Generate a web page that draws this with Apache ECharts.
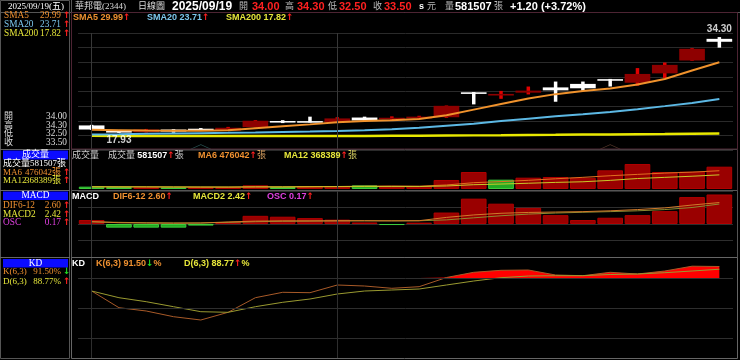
<!DOCTYPE html>
<html><head><meta charset="utf-8">
<script src="https://cdn.jsdelivr.net/npm/echarts@6/dist/echarts.min.js"></script>
<style>html,body{margin:0;padding:0;background:#000;}#c{width:740px;height:360px;}</style>
</head><body><div id="c"></div>
<script>
// ---------------- DATA ----------------
const dates = ['08/19','08/20','08/21','08/22','08/25','08/26','08/27','08/28','08/29','09/01','09/02','09/03','09/04','09/05','09/08','09/09','09/10','09/11','09/12','09/15','09/16','09/17','09/18','09/19'];
const opens  = [19.20,18.25,18.05,18.50,18.55,18.30,18.90,19.95,19.85,19.70,20.55,20.30,20.40,20.60,24.85,24.35,24.80,25.70,26.30,27.10,26.50,28.10,30.30,34.00];
const closes = [18.50,17.98,18.50,18.15,18.45,18.80,20.00,19.70,19.75,20.40,20.05,20.45,20.70,22.55,24.60,24.55,25.15,25.20,25.55,26.85,28.00,29.55,32.30,33.50];
const lows   = [18.45,17.93,18.00,17.95,18.40,18.25,18.85,19.60,19.70,19.60,19.95,20.10,20.30,20.50,22.80,23.75,24.50,23.25,25.15,25.85,26.00,27.30,30.25,32.50];
const highs  = [19.30,18.40,18.60,18.55,18.75,18.95,20.10,20.10,20.70,20.60,20.70,20.75,20.85,22.60,24.90,25.10,25.85,26.70,26.70,27.15,29.00,29.95,32.40,34.30];
const sma5   = [18.45,18.38,18.32,18.30,18.30,18.38,18.72,19.05,19.38,19.75,19.95,20.10,20.30,20.95,21.90,22.85,23.80,24.55,25.07,25.50,26.20,27.15,28.60,29.99];
const sma20  = [17.65,17.70,17.78,17.83,17.88,17.93,18.00,18.08,18.16,18.25,18.38,18.53,18.80,19.15,19.50,19.95,20.35,20.75,21.10,21.50,21.98,22.50,23.05,23.71];
const sma200 = [17.42,17.41,17.40,17.39,17.38,17.38,17.38,17.38,17.38,17.39,17.40,17.42,17.44,17.47,17.50,17.53,17.57,17.60,17.64,17.67,17.71,17.74,17.78,17.82];
const volumes = [61000,52000,43000,43000,43000,43000,96000,52000,78000,78000,96000,70000,70000,235000,443000,243000,295000,313000,295000,487000,652000,443000,452000,581507];
const volUp   = [0,0,1,0,1,1,1,0,1,1,0,1,1,1,1,0,1,1,1,1,1,1,1,1];
const volMA6  = [55000,55000,52000,50000,48000,47500,53000,53300,59200,65000,73000,78300,73700,104500,165000,192800,226000,266500,304000,346000,381000,415000,440000,476042];
const volMA12 = [60000,58000,57000,55000,53000,52000,56000,57000,59000,61000,64000,63000,63700,79000,112000,129000,150000,172000,189000,225000,273000,303500,333000,368389];
const osc  = [0.023,-0.021,-0.021,-0.021,-0.009,0.011,0.047,0.042,0.034,0.025,0.009,-0.006,0.008,0.066,0.146,0.117,0.093,0.051,0.023,0.036,0.051,0.074,0.155,0.17];
const dif  = [0.30,0.15,0.12,0.10,0.12,0.25,0.35,0.38,0.38,0.40,0.40,0.38,0.40,0.80,1.10,1.30,1.40,1.45,1.50,1.60,1.75,1.95,2.30,2.60];
const macd = [0.25,0.20,0.15,0.12,0.12,0.20,0.28,0.33,0.35,0.37,0.38,0.39,0.39,0.50,0.75,1.00,1.20,1.33,1.42,1.50,1.60,1.75,2.00,2.42];
const kLine = [67,50.3,47,41.3,38,45.7,60.3,65.7,65.3,73,72,69.7,71.3,80.5,85.7,87.7,88,83,82.3,85.7,84,87,91.8,91.50];
const dLine = [67,60.3,56.3,51.3,46.3,45.7,51.3,55.7,59,64,67,68,69,73,77,80.3,82,82.3,82.3,83.5,84,85.3,87,88.77];
const priceAxis = {min:15, max:35, interval:2.5};
const kdLevels = [20,50,80];
const monthMarks = ['08/19','09/01'];
const pivotMarks = [4,19];
const stockName = '華邦電(2344)';
const chartType = '日線圖';
const dateText = '2025/09/19';
const weekday = '五';

// ---------------- HELPERS ----------------
const N = dates.length, L = N-1;
const f2 = v => v.toFixed(2);
const arrow = (a,b) => a>=b ? '↑' : '↓';
const arrowColor = (a,b) => a>=b ? '#ff2020' : '#22dd22';
const SERIF = '"Liberation Serif","Noto Sans CJK TC",serif';
const SANS = '"Liberation Sans","Noto Sans CJK TC",sans-serif';
const ORANGE='#ee9030', YELLOW='#e6e63a', LBLUE='#7cc6ec', MAG='#e040e0', RED='#ff2020';
let gi=0;
function T(x,y,segs,align){
  const rich={}; let txt='';
  segs.forEach(s=>{const k='s'+(gi++); rich[k]={fill:s[1],font:s[2]}; txt+='{'+k+'|'+s[0]+'}';});
  return {type:'text',silent:true,z:200,style:{x:x,y:y,text:txt,rich:rich,align:align||'left',textAlign:align||'left',verticalAlign:'middle',textVerticalAlign:'middle'}};
}
const B9='bold 9px '+SANS, B11='bold 11px '+SANS, B12='bold 12px '+SANS;
const S9='9px '+SERIF, SL='9.3px '+SERIF, AR='bold 9px "DejaVu Sans"';
function hl(x1,x2,y,c){return {type:'line',silent:true,z:150,shape:{x1:x1,y1:y,x2:x2,y2:y},style:{stroke:c,lineWidth:1}};}
function vl(x,y1,y2,c){return {type:'line',silent:true,z:150,shape:{x1:x,y1:y1,x2:x,y2:y2},style:{stroke:c,lineWidth:1}};}
function box(x,y,w,h,c){return {type:'rect',silent:true,z:150,shape:{x:x,y:y,width:w,height:h},style:{fill:c}};}

const chg = closes[L]-closes[L-1];
const pct = chg/closes[L-1]*100;
let hiIdx=0, loIdx=0;
highs.forEach((v,i)=>{if(v>highs[hiIdx]) hiIdx=i;});
lows.forEach((v,i)=>{if(v<lows[loIdx]) loIdx=i;});

const graphics = [
  // frames
  hl(0,740,12.5,'#555'),
  {type:'rect',silent:true,z:150,shape:{x:71.5,y:12.5,width:666,height:136.5},style:{fill:'none',stroke:'#4d2433',lineWidth:1}},
  {type:'rect',silent:true,z:150,shape:{x:71.5,y:149.5,width:666,height:41},style:{fill:'none',stroke:'#4a3a40',lineWidth:1}},
  {type:'rect',silent:true,z:150,shape:{x:71.5,y:190.5,width:666,height:67},style:{fill:'none',stroke:'#555',lineWidth:1}},
  {type:'rect',silent:true,z:150,shape:{x:71.5,y:257.5,width:666,height:101},style:{fill:'none',stroke:'#666',lineWidth:1}},
  {type:'rect',silent:true,z:150,shape:{x:0.5,y:0.5,width:69,height:358},style:{fill:'none',stroke:'#555',lineWidth:1}},
  hl(0,70,149.5,'#666'), hl(0,70,190.5,'#666'), hl(0,70,257.5,'#666'),
  vl(71.5,0,12,'#555'),
  // header
  T(8,6.5,[[dateText+'('+weekday+')','#fff',S9]]),
  T(75,6.5,[[stockName,'#ddd',S9]]),
  T(138,6.5,[[chartType,'#ddd',S9]]),
  T(172,6.5,[[dateText,'#fff',B12]]),
  T(239,6.5,[['開','#bbb',S9]]), T(252,6.5,[[f2(opens[L]),RED,B11]]),
  T(285,6.5,[['高','#bbb',S9]]), T(297,6.5,[[f2(highs[L]),RED,B11]]),
  T(328,6.5,[['低','#bbb',S9]]), T(339,6.5,[[f2(lows[L]),RED,B11]]),
  T(373,6.5,[['收','#bbb',S9]]), T(384,6.5,[[f2(closes[L]),RED,B11]]),
  T(419,6.5,[['s','#fff',B9]]), T(427,6.5,[['元','#bbb',S9]]),
  T(445,6.5,[['量','#bbb',S9]]), T(455,6.5,[[String(volumes[L]),'#fff',B11]]), T(494,6.5,[['張','#bbb',S9]]),
  T(510,6.5,[[(chg>=0?'+':'')+f2(chg)+' ('+(pct>=0?'+':'')+f2(pct)+'%)','#fff',B11]]),
  // left column
  T(4,16,[['SMA5',ORANGE,SL]]), T(61,16,[[f2(sma5[L]),ORANGE,SL]],'right'), T(63,16,[[arrow(sma5[L],sma5[L-1]),arrowColor(sma5[L],sma5[L-1]),AR]]),
  T(4,25,[['SMA20',LBLUE,SL]]), T(61,25,[[f2(sma20[L]),LBLUE,SL]],'right'), T(63,25,[[arrow(sma20[L],sma20[L-1]),arrowColor(sma20[L],sma20[L-1]),AR]]),
  T(4,34,[['SMA200',YELLOW,SL]]), T(61,34,[[f2(sma200[L]),YELLOW,SL]],'right'), T(63,34,[[arrow(sma200[L],sma200[L-1]),arrowColor(sma200[L],sma200[L-1]),AR]]),
  T(4,117,[['開','#ddd',S9]]), T(67,117,[[f2(opens[L]),'#ddd',SL]],'right'),
  T(4,125.5,[['高','#ddd',S9]]), T(67,125.5,[[f2(highs[L]),'#ddd',SL]],'right'),
  T(4,134,[['低','#ddd',S9]]), T(67,134,[[f2(lows[L]),'#ddd',SL]],'right'),
  T(4,142.5,[['收','#ddd',S9]]), T(67,142.5,[[f2(closes[L]),'#ddd',SL]],'right'),
  box(3,150.5,65,9,'#0b0bff'), T(35.5,155,[['成交量','#fff',S9]],'center'),
  T(3,164,[['成交量'+volumes[L]+'張','#fff',S9]]),
  T(3,172.5,[['MA6',ORANGE,S9]]), T(61,172.5,[[volMA6[L]+'張',ORANGE,S9]],'right'), T(63,172.5,[[arrow(volMA6[L],volMA6[L-1]),arrowColor(volMA6[L],volMA6[L-1]),AR]]),
  T(3,181,[['MA12',YELLOW,S9]]), T(61,181,[[volMA12[L]+'張',YELLOW,S9]],'right'), T(63,181,[[arrow(volMA12[L],volMA12[L-1]),arrowColor(volMA12[L],volMA12[L-1]),AR]]),
  box(3,191.5,65,8.5,'#0b0bff'), T(35.5,196,[['MACD','#fff',SL]],'center'),
  T(3,206,[['DIF6-12',ORANGE,SL]]), T(61,206,[[f2(dif[L]),ORANGE,SL]],'right'), T(63,206,[[arrow(dif[L],dif[L-1]),arrowColor(dif[L],dif[L-1]),AR]]),
  T(3,214.5,[['MACD2',YELLOW,SL]]), T(61,214.5,[[f2(macd[L]),YELLOW,SL]],'right'), T(63,214.5,[[arrow(macd[L],macd[L-1]),arrowColor(macd[L],macd[L-1]),AR]]),
  T(3,223,[['OSC',MAG,SL]]), T(61,223,[[f2(osc[L]),MAG,SL]],'right'), T(63,223,[[arrow(osc[L],osc[L-1]),arrowColor(osc[L],osc[L-1]),AR]]),
  box(3,259,65,8.5,'#0b0bff'), T(35.5,263.5,[['KD','#fff',SL]],'center'),
  T(3,272,[['K(6,3)',ORANGE,S9]]), T(61,272,[[f2(kLine[L])+'%',ORANGE,S9]],'right'), T(63,272,[[arrow(kLine[L],kLine[L-1]),arrowColor(kLine[L],kLine[L-1]),AR]]),
  T(3,281.5,[['D(6,3)',YELLOW,S9]]), T(61,281.5,[[f2(dLine[L])+'%',YELLOW,S9]],'right'), T(63,281.5,[[arrow(dLine[L],dLine[L-1]),arrowColor(dLine[L],dLine[L-1]),AR]]),
  // panel legends
  T(73,17.5,[['SMA5 '+f2(sma5[L]),ORANGE,B9],[arrow(sma5[L],sma5[L-1]),RED,AR]]),
  T(147,17.5,[['SMA20 '+f2(sma20[L]),LBLUE,B9],[arrow(sma20[L],sma20[L-1]),RED,AR]]),
  T(226,17.5,[['SMA200 '+f2(sma200[L]),YELLOW,B9],[arrow(sma200[L],sma200[L-1]),RED,AR]]),
  T(72,156,[['成交量','#ccc',S9]]),
  T(108,156,[['成交量 ','#ccc',S9],[String(volumes[L]),'#fff',B9],[arrow(volumes[L],volumes[L-1]),RED,AR],['張','#ccc',S9]]),
  T(198,156,[['MA6 '+volMA6[L],ORANGE,B9],[arrow(volMA6[L],volMA6[L-1]),RED,AR],['張','#d8a060',S9]]),
  T(284,156,[['MA12 '+volMA12[L],YELLOW,B9],[arrow(volMA12[L],volMA12[L-1]),RED,AR],['張','#d8d060',S9]]),
  T(72,197,[['MACD','#fff',B9]]),
  T(113,197,[['DIF6-12 '+f2(dif[L]),ORANGE,B9],[arrow(dif[L],dif[L-1]),RED,AR]]),
  T(193,197,[['MACD2 '+f2(macd[L]),YELLOW,B9],[arrow(macd[L],macd[L-1]),RED,AR]]),
  T(267,197,[['OSC '+f2(osc[L]),MAG,B9],[arrow(osc[L],osc[L-1]),RED,AR]]),
  T(72,264,[['KD','#fff',B9]]),
  T(96,264,[['K(6,3) '+f2(kLine[L]),ORANGE,B9],[arrow(kLine[L],kLine[L-1]),arrowColor(kLine[L],kLine[L-1]),AR],['%',ORANGE,B9]]),
  T(184,264,[['D(6,3) '+f2(dLine[L]),YELLOW,B9],[arrow(dLine[L],dLine[L-1]),arrowColor(dLine[L],dLine[L-1]),AR],['%',YELLOW,B9]])
];

// ---------------- CHART ----------------
const chart = echarts.init(document.getElementById('c'));
const grids = [
  {left:78,right:7,top:33,height:117},
  {left:78,right:7,top:149,height:40},
  {left:78,right:7,top:191,height:66},
  {left:78,right:7,top:258,height:100}
];
const xAxes = grids.map((g,i)=>({type:'category',gridIndex:i,data:dates,boundaryGap:true,show:false}));
const hidden = {axisLabel:{show:false},axisLine:{show:false},axisTick:{show:false}};
const yAxes = [
  Object.assign({type:'value',gridIndex:0,min:priceAxis.min,max:priceAxis.max,interval:priceAxis.interval,splitLine:{lineStyle:{color:'#2a2a2a'}}},hidden),
  Object.assign({type:'value',gridIndex:1,min:0,max:1043000,splitLine:{show:false}},hidden),
  Object.assign({type:'value',gridIndex:2,min:-0.19,max:0.19,interval:0.095,splitLine:{lineStyle:{color:'#2e2e2e'}}},hidden),
  Object.assign({type:'value',gridIndex:2,min:-4,max:4,splitLine:{show:false}},hidden),
  Object.assign({type:'value',gridIndex:3,min:0,max:100,splitLine:{show:false}},hidden)
];
const vMark = {silent:true,symbol:'none',label:{show:false},lineStyle:{color:'#383838',width:1,type:'solid'},data:monthMarks.map(m=>({xAxis:m}))};
const lineS = (xi,yi,data,color,w,z)=>({type:'line',xAxisIndex:xi,yAxisIndex:yi,data:data,symbol:'none',lineStyle:{color:color,width:w},z:z||3,silent:true});

const candleData = dates.map((d,i)=>[i,opens[i],closes[i],lows[i],highs[i]]);

const series = [
  {type:'custom',xAxisIndex:0,yAxisIndex:0,data:candleData,encode:{x:0,y:[1,2,3,4]},z:2,silent:true,
   markLine:vMark,
   renderItem:function(params,api){
     const i=api.value(0),o=api.value(1),c=api.value(2),l=api.value(3),h=api.value(4);
     const pO=api.coord([i,o]),pC=api.coord([i,c]),pL=api.coord([i,l]),pH=api.coord([i,h]);
     const bw=api.size([1,0])[0]*0.94;
     const up=c>=o;
     let top=Math.min(pO[1],pC[1]),bh=Math.abs(pO[1]-pC[1]);
     if(bh<1.6){top-= (1.6-bh)/2; bh=1.6;}
     const x=pO[0];
     return {type:'group',children:[
       {type:'rect',shape:{x:x-1.75,y:pH[1],width:3.5,height:pL[1]-pH[1]},style:{fill:up?'#e00000':'#ffffff'}},
       {type:'rect',shape:{x:x-bw/2,y:top,width:bw,height:bh},style:{fill:up?'#8e0000':'#ffffff'}}
     ]};
   }},
  lineS(0,0,sma200,'#e8e800',2.5,3),
  lineS(0,0,sma20,'#5cb8e4',2,3),
  lineS(0,0,sma5,'#f0922c',2,4),
  {type:'scatter',xAxisIndex:0,yAxisIndex:0,symbolSize:1,itemStyle:{color:'rgba(0,0,0,0)'},silent:true,z:5,
   data:[{value:[hiIdx,highs[hiIdx]],label:{show:true,position:'top',distance:2}},
         {value:[loIdx,lows[loIdx]],label:{show:true,position:'bottom',distance:2}}],
   label:{color:'#fff',fontFamily:'"Liberation Sans"',fontWeight:'bold',fontSize:10,formatter:p=>f2(p.value[1])}},
  {type:'scatter',xAxisIndex:0,yAxisIndex:0,symbol:'path://M0,10 L10,0 L20,10 L18.6,10 L10,1.6 L1.4,10 Z',symbolSize:[22,5],silent:true,z:1,
   data:pivotMarks.map((p,k)=>({value:[p,15.55],itemStyle:{color:k===0?'#356a6a':'#6a4534'}}))},
  // volume
  {type:'bar',xAxisIndex:1,yAxisIndex:1,barWidth:'94%',silent:true,z:2,markLine:vMark,
   data:volumes.map((v,i)=>({value:v,itemStyle:{color:volUp[i]?'#9a0000':'#23a823',borderColor:volUp[i]?'#b00000':'#3ccc3c',borderWidth:1}}))},
  lineS(1,1,volMA6,'#e07020',1,3),
  lineS(1,1,volMA12,'#c8c828',1,3),
  // MACD
  {type:'bar',xAxisIndex:2,yAxisIndex:2,barWidth:'94%',silent:true,z:2,markLine:vMark,
   data:osc.map(v=>({value:v,itemStyle:{color:v>=0?'#9a0000':'#23a823',borderColor:v>=0?'#b00000':'#3ccc3c',borderWidth:1}}))},
  lineS(2,3,macd,'#8c8a30',1,3),
  lineS(2,3,dif,'#d07a2a',1,3),
  // KD
  {type:'line',xAxisIndex:3,yAxisIndex:4,data:dates.map(()=>kdLevels[2]),stack:'kdf',symbol:'none',lineStyle:{width:0,opacity:0},silent:true,z:1,
   markLine:{silent:true,symbol:'none',label:{show:false},lineStyle:{color:'#2e2e2e',width:1,type:'solid'},
     data:kdLevels.map(v=>({yAxis:v})).concat(monthMarks.map(m=>({xAxis:m})))}},
  {type:'line',xAxisIndex:3,yAxisIndex:4,data:kLine.map(k=>Math.max(k-kdLevels[2],0)),stack:'kdf',symbol:'none',lineStyle:{width:0,opacity:0},areaStyle:{color:'#ff0000',opacity:1},silent:true,z:2},
  lineS(3,4,kLine,'#a85a28',1,3),
  lineS(3,4,dLine,'#9a9a30',1,3)
];

chart.setOption({
  backgroundColor:'#000',
  animation:false,
  grid:grids, xAxis:xAxes, yAxis:yAxes, series:series, graphic:graphics
});
</script></body></html>
